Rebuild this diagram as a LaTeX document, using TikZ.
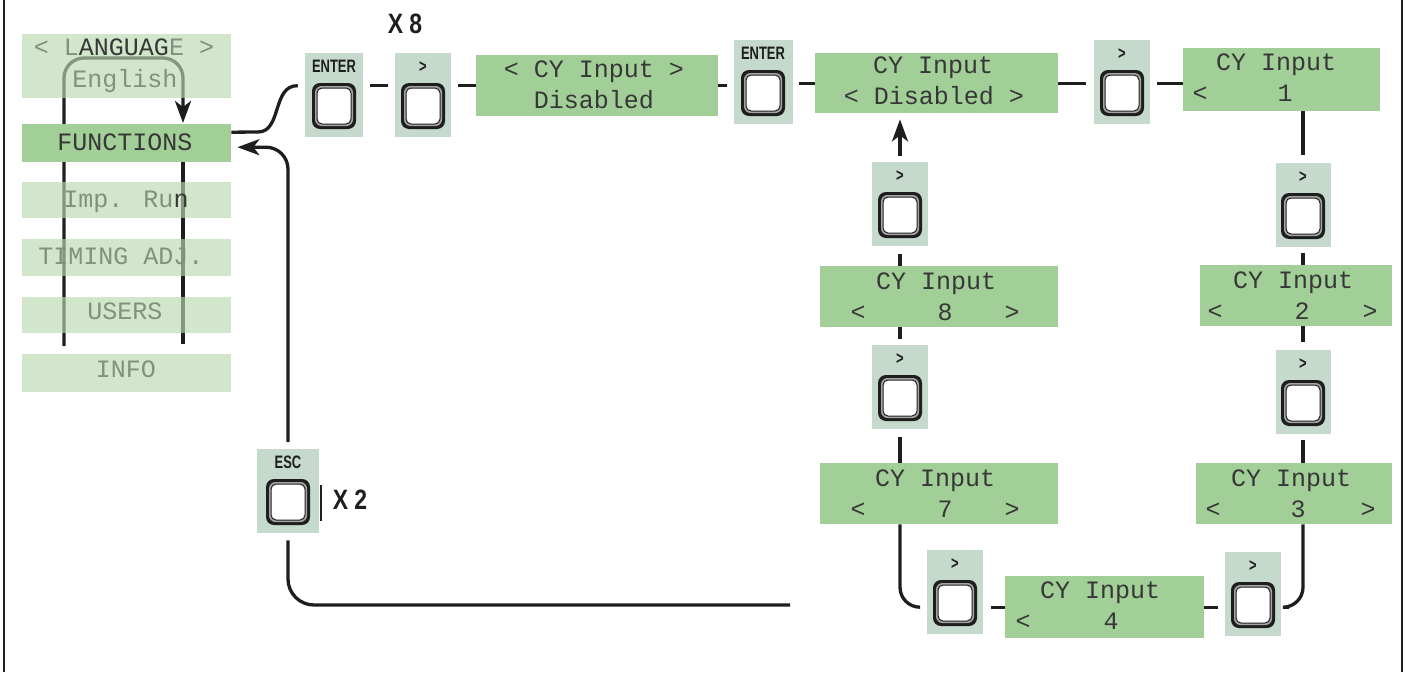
\documentclass[tikz,border=0pt]{standalone}
\usepackage{fontspec}
\usetikzlibrary{arrows.meta,calc}
\newfontfamily\lcdfont{Liberation Mono}
\newfontfamily\keyfont[FakeStretch=0.72]{Liberation Sans}
\newfontfamily\countfont[FakeStretch=0.82]{Liberation Sans}

\definecolor{lcdgreen}{RGB}{162,207,152}
\definecolor{keypanel}{RGB}{197,217,205}
\definecolor{menufill}{RGB}{184,217,173}
\definecolor{ink}{RGB}{30,30,30}
\definecolor{lcdtext}{RGB}{55,55,55}
\definecolor{dimtext}{RGB}{128,145,125}
\definecolor{btngray}{RGB}{165,165,165}

% key panel: name, centre x, top y, width, key caption
\newcommand\keypanel[5]{%
  \node[keypad, minimum width=#4pt, anchor=north] (#1) at (#2,#3) {};
  \node[keyname] (#1-l) at ([yshift=-19pt]#1.north) {#5};
  \node[btnouter] (#1-b) at ([yshift=-53pt]#1.north) {};
  \node[btnring] (#1-r) at (#1-b) {};
  \node[btnface] (#1-f) at (#1-b) {};
}

\begin{document}
\begin{tikzpicture}[x=1pt,y=-1pt,
  conn/.style={draw=ink, line width=3.3pt},
  headed/.style={-{Stealth[length=22pt,width=16pt,inset=6pt]}},
  lcd/.style={rectangle, fill=lcdgreen, inner sep=0pt, anchor=north west},
  menu/.style={rectangle, fill=menufill, fill opacity=0.65, inner sep=0pt,
    minimum width=209pt, anchor=north west},
  keypad/.style={rectangle, fill=keypanel, inner sep=0pt, minimum height=84pt},
  keyname/.style={font=\keyfont\bfseries\fontsize{18}{18}\selectfont, text=ink,
    inner sep=0pt, anchor=base},
  count/.style={font=\countfont\bfseries\fontsize{28}{28}\selectfont, text=ink,
    inner sep=0pt, anchor=base},
  lcdline/.style={font=\lcdfont\fontsize{25}{25}\selectfont, text=lcdtext,
    inner sep=0pt, anchor=base},
  menuline/.style={lcdline, text=dimtext},
  btnouter/.style={rectangle, rounded corners=8pt, fill=ink, minimum width=44pt,
    minimum height=46pt, inner sep=0pt},
  btnring/.style={rectangle, rounded corners=6.5pt, fill=btngray, minimum width=38pt,
    minimum height=40pt, inner sep=0pt},
  btnface/.style={rectangle, rounded corners=5pt, fill=white, draw=ink, line width=1pt,
    minimum width=34pt, minimum height=36pt, inner sep=0pt},
]
\useasboundingbox (0,0) rectangle (1405,672);

% frame sides
\draw[ink, line width=2.5pt] (4,0) -- (4,672);
\draw[ink, line width=2.5pt] (1402,0) -- (1402,672);

% ---------- menu column ----------
\coordinate (loopL) at (64,346);
\coordinate (loopR) at (183,344);
\coordinate (loopTop) at (183,58);
\node[rectangle, inner sep=0pt, minimum width=209pt, minimum height=38pt, anchor=north west] (functions) at (22,124) {};
\draw[conn, rounded corners=20pt, headed] (loopL) |- (loopTop) -- ($(functions.north -| loopR)+(0,-1)$);
\draw[conn] (functions.south -| loopR) -- (loopR);

\node[menu, minimum height=64pt] (mLang) at (22,34) {};
\node[lcd, minimum width=209pt, minimum height=38pt] (fnbox) at (functions.north west) {};
\node[menu, minimum height=36pt] (mImp) at (22,182) {};
\node[menu, minimum height=37pt] (mTiming) at (22,239) {};
\node[menu, minimum height=36pt] (mUsers) at (22,297) {};
\node[menu, minimum height=38pt] (mInfo) at (22,354) {};

\node[menuline] (tLang) at (124,55) {< L\textcolor{lcdtext}{ANGUAG}E >};
\node[menuline] (tEng) at (125,87) {English};
\node[lcdline] (tFn) at (125,150) {FUNCTIONS};
\node[menuline] (tImp) at (126,207) {Imp. Ru\textcolor{lcdtext}{n}};
\node[menuline] (tTim) at (121,264) {TIMING ADJ.};
\node[menuline] (tUsr) at (125,319) {USERS};
\node[menuline] (tInf) at (126,377) {INFO};

% ---------- LCD screens ----------
\node[lcd, minimum width=242pt, minimum height=61pt] (lcd1) at (476,55) {};
\node[lcdline] (lcd1-a) at (594,77) {< CY Input >};
\node[lcdline] (lcd1-b) at (594,108) {Disabled};

\node[lcd, minimum width=243pt, minimum height=60pt] (lcd2) at (815,53) {};
\node[lcdline] (lcd2-a) at (933,73) {CY Input};
\node[lcdline] (lcd2-b) at (934,104) {< Disabled >};

\node[lcd, minimum width=197pt, minimum height=63pt] (lcd3) at (1183,48) {};
\node[lcdline] (lcd3-a) at (1276,70) {CY Input};
\node[lcdline] (lcd3-l) at (1200,101) {<};
\node[lcdline] (lcd3-v) at (1285,101) {1};

\node[lcd, minimum width=192pt, minimum height=61pt] (lcd4) at (1200,265) {};
\node[lcdline] (lcd4-a) at (1293,288) {CY Input};
\node[lcdline] (lcd4-l) at (1215,319) {<};
\node[lcdline] (lcd4-v) at (1302,319) {2};
\node[lcdline] (lcd4-r) at (1370,319) {>};

\node[lcd, minimum width=196pt, minimum height=61pt] (lcd5) at (1196,463) {};
\node[lcdline] (lcd5-a) at (1291,486) {CY Input};
\node[lcdline] (lcd5-l) at (1213,517) {<};
\node[lcdline] (lcd5-v) at (1298,517) {3};
\node[lcdline] (lcd5-r) at (1368,517) {>};

\node[lcd, minimum width=199pt, minimum height=62pt] (lcd6) at (1005,576) {};
\node[lcdline] (lcd6-a) at (1100,598) {CY Input};
\node[lcdline] (lcd6-l) at (1023,629) {<};
\node[lcdline] (lcd6-v) at (1111,629) {4};

\node[lcd, minimum width=238pt, minimum height=61pt] (lcd7) at (820,463) {};
\node[lcdline] (lcd7-a) at (935,486) {CY Input};
\node[lcdline] (lcd7-l) at (858,517) {<};
\node[lcdline] (lcd7-v) at (945,517) {7};
\node[lcdline] (lcd7-r) at (1012,517) {>};

\node[lcd, minimum width=238pt, minimum height=61pt] (lcd8) at (820,266) {};
\node[lcdline] (lcd8-a) at (936,289) {CY Input};
\node[lcdline] (lcd8-l) at (858,320) {<};
\node[lcdline] (lcd8-v) at (945,320) {8};
\node[lcdline] (lcd8-r) at (1012,320) {>};

% ---------- keys ----------
\keypanel{enter1}{334}{53}{58}{ENTER}
\keypanel{gt1}{423}{53}{56}{>}
\keypanel{enter2}{763}{40}{59}{ENTER}
\keypanel{gt2}{1122}{40}{56}{>}
\keypanel{gt3}{1303}{163}{55}{>}
\keypanel{gt4}{1303}{350}{55}{>}
\keypanel{gt5}{1253}{552}{56}{>}
\keypanel{gt6}{955}{550}{56}{>}
\keypanel{gt7}{900}{345}{56}{>}
\keypanel{gt8}{900}{162}{56}{>}
\keypanel{esc}{288}{449}{62}{ESC}

\node[count] (x8) at (405,33) {X 8};
\node[count] (x2) at (350,509) {X 2};

% ---------- connectors ----------
\draw[conn] ([yshift=11pt]functions.east) -- (258,132)
  .. controls (282,132) and (272,85) .. ($(enter1.west |- lcd1)+(-7,0)$);
\draw[conn, shorten <=7pt, shorten >=7pt] (enter1.east |- lcd1) -- (gt1.west |- lcd1);
\draw[conn, shorten <=7pt] (gt1.east |- lcd1) -- (lcd1.west);
\draw[conn, shorten >=6pt] (lcd1.east) -- (enter2.west |- lcd1);
\draw[conn, shorten <=6pt] (enter2.east |- lcd2) -- (lcd2.west);
\draw[conn, shorten >=8pt] (lcd2.east) -- (gt2.west |- lcd2);
\draw[conn, shorten <=7pt] (gt2.east |- lcd2) -- (lcd3.west |- lcd2);
\draw[conn, shorten >=8pt] (lcd3.south -| gt3) -- (gt3.north);
\draw[conn, shorten <=6pt] (gt3.south) -- (lcd4.north -| gt3);
\draw[conn, shorten >=8pt] (lcd4.south -| gt4) -- (gt4.north);
\draw[conn, shorten <=6pt] (gt4.south) -- (lcd5.north -| gt4);
\draw[conn, rounded corners=20pt] (lcd5.south -| gt4) |- ($(gt5.east |- lcd6)+(8,0)$);
\draw[conn, shorten <=7pt] (gt5.west |- lcd6) -- (lcd6.east);
\draw[conn, shorten >=8pt] (lcd6.west) -- (gt6.east |- lcd6);
\draw[conn, rounded corners=20pt] ($(gt6.west |- lcd6)+(-8,0)$) -| (lcd7.south -| gt7);
\draw[conn, shorten >=8pt] (lcd7.north -| gt7) -- (gt7.south);
\draw[conn, shorten <=6pt] (gt7.north) -- (lcd8.south -| gt7);
\draw[conn, shorten >=8pt] (lcd8.north -| gt8) -- (gt8.south);
\draw[conn, headed, shorten <=6pt, shorten >=6pt] (gt8.north) -- (lcd2.south -| gt8);

% return path through ESC
\coordinate (retEnd) at (790,605);
\draw[conn, rounded corners=26pt] (retEnd) -| ($(esc.south)+(0,7)$);
\draw[conn, rounded corners=22pt, headed] ($(esc.north)+(0,-7)$) |- ($(functions.east)+(6,4)$);
\draw[ink, line width=2pt] ($(esc.east |- esc-b)+(2,-17)$) -- ($(esc.east |- esc-b)+(2,19)$);
\end{tikzpicture}
\end{document}
